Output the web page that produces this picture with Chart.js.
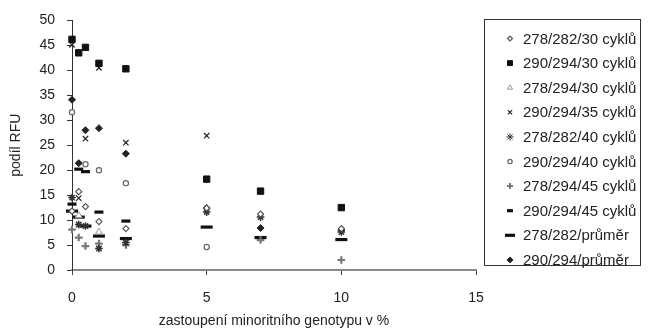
<!DOCTYPE html>
<html>
<head>
<meta charset="utf-8">
<script src="https://cdn.jsdelivr.net/npm/chart.js@4/dist/chart.umd.min.js"></script>
<style>
html,body{margin:0;padding:0;background:#fff;}
#wrap{width:648px;height:330px;position:relative;}
</style>
</head>
<body>
<div id="wrap"><canvas id="c" width="648" height="330"></canvas></div>
<script>
// x categories: % of minority genotype
const xValues = [0, 0.25, 0.5, 1, 2, 5, 7, 10];
const xTicks = [0, 5, 10, 15];
const yTicks = [0, 5, 10, 15, 20, 25, 30, 35, 40, 45, 50];

const labels = [
  '278/282/30 cyklů', '290/294/30 cyklů', '278/294/30 cyklů', '290/294/35 cyklů',
  '278/282/40 cyklů', '290/294/40 cyklů', '278/294/45 cyklů', '290/294/45 cyklů',
  '278/282/průměr', '290/294/průměr'
];

const s278_282_30  = [11.8, 15.7, 12.7, 9.7, 8.3, 12.4, 11.2, 8.3];
const s290_294_30  = [46.2, 43.5, 44.6, 41.4, 40.3, 18.2, 15.8, 12.5];
const s278_294_30  = [null, 10.9, null, 7.6, null, null, null, null];
const s290_294_35  = [45.1, 14.4, 26.3, 40.5, 25.5, 26.9, null, null];
const s278_282_40  = [14.5, 9.1, 8.8, 4.3, 5.5, 11.6, 10.6, 7.6];
const s290_294_40  = [31.6, null, 21.2, 20.0, 17.4, 4.6, null, null];
const s278_294_45  = [8.1, 6.5, 4.8, 5.3, 5.0, null, 6.0, 2.0];
const s290_294_45  = [13.2, 20.2, 19.7, 11.6, 9.8, null, null, null];
const s278_282_avg = [11.8, 10.6, 8.8, 6.8, 6.3, 8.6, 6.5, 6.1];
const s290_294_avg = [34.1, 21.4, 28.0, 28.4, 23.3, 12.4, 8.4, 8.0];

const seriesValues = [s278_282_30, s290_294_30, s278_294_30, s290_294_35, s278_282_40,
  s290_294_40, s278_294_45, s290_294_45, s278_282_avg, s290_294_avg];

const NONE = 'rgba(0,0,0,0)';
const styles = [
  {pointStyle:'rectRot',  radius:3,   bg:'#ffffff', bc:'#555555', bw:1.2, lr:2.5, lw:1.2},
  {pointStyle:'rect',     radius:4.5, bg:'#111111', bc:'#111111', bw:1,   lr:3.5, lw:1},
  {pointStyle:'triangle', radius:4,   bg:'#ffffff', bc:'#999999', bw:1,   lr:3,   lw:1},
  {pointStyle:'crossRot', radius:3.8, bg:NONE,      bc:'#222222', bw:1.2, lr:3,   lw:1.2},
  {pointStyle:'star',     radius:3.8, bg:NONE,      bc:'#333333', bw:1.5, lr:3.6, lw:1},
  {pointStyle:'circle',   radius:2.6, bg:'#ffffff', bc:'#666666', bw:1.2, lr:2.2, lw:1.2},
  {pointStyle:'cross',    radius:3.8, bg:NONE,      bc:'#777777', bw:2.2, lr:3,   lw:2},
  {pointStyle:'line',     radius:4.5, bg:NONE,      bc:'#111111', bw:3.2, lr:3,   lw:3.2},
  {pointStyle:'line',     radius:6,   bg:NONE,      bc:'#111111', bw:3.2, lr:5,   lw:3.2},
  {pointStyle:'rectRot',  radius:3.5, bg:'#222222', bc:'#222222', bw:1,   lr:3,   lw:1}
];

const datasets = labels.map((lab, i) => ({
  label: lab,
  data: xValues.map((x, j) => seriesValues[i][j] === null ? null : {x: x, y: seriesValues[i][j]}).filter(p => p !== null),
  pointStyle: styles[i].pointStyle,
  pointRadius: styles[i].radius,
  pointHoverRadius: styles[i].radius,
  backgroundColor: styles[i].bg,
  borderColor: styles[i].bc,
  borderWidth: styles[i].bw,
  pointBorderWidth: styles[i].bw,
  legendRadius: styles[i].lr,
  legendWidth: styles[i].lw,
  showLine: false,
  clip: false
}));

const FONT = '"Liberation Sans", Arial, sans-serif';

const legendBox = {
  id: 'legendBox',
  afterDraw(chart) {
    const ctx = chart.ctx;
    ctx.save();
    ctx.strokeStyle = '#333';
    ctx.lineWidth = 1;
    ctx.strokeRect(484.5, 19.5, 156, 246);
    ctx.font = '15px ' + FONT;
    ctx.textBaseline = 'middle';
    ctx.textAlign = 'left';
    chart.data.datasets.forEach((ds, i) => {
      const y = 38.5 + i * 24.6;
      ctx.save();
      ctx.fillStyle = ds.backgroundColor;
      ctx.strokeStyle = ds.borderColor;
      ctx.lineWidth = ds.legendWidth;
      Chart.helpers.drawPoint(ctx, {pointStyle: ds.pointStyle, radius: ds.legendRadius, borderWidth: ds.legendWidth, rotation: 0}, 510, y);
      ctx.restore();
      ctx.fillStyle = '#222';
      ctx.fillText(ds.label, 523, y + 1);
    });
    ctx.restore();
  }
};

new Chart(document.getElementById('c'), {
  type: 'scatter',
  data: { datasets: datasets },
  options: {
    responsive: false,
    animation: false,
    devicePixelRatio: 1,
    layout: { padding: { top: 18, right: 172, left: 0, bottom: 0 } },
    plugins: { legend: { display: false }, tooltip: { enabled: false } },
    scales: {
      x: {
        type: 'linear', min: 0, max: 15,
        afterFit(s) { s.height = 60; },
        afterBuildTicks(s) { s.ticks = xTicks.map(v => ({value: v})); },
        border: { display: true, color: '#8a8a8a', width: 2 },
        grid: { display: true, drawOnChartArea: false, drawTicks: true, tickLength: 5, color: '#444', lineWidth: 1 },
        ticks: { color: '#222', padding: 15, font: { size: 14, family: FONT } },
        title: { display: true, text: 'zastoupení minoritního genotypu v %', color: '#222',
                 font: { size: 14, family: FONT }, padding: { top: 0, bottom: 0 } }
      },
      y: {
        type: 'linear', min: 0, max: 50,
        afterFit(s) { s.width = 72; },
        afterBuildTicks(s) { s.ticks = yTicks.map(v => ({value: v})); },
        border: { display: true, color: '#333', width: 1 },
        grid: { display: true, drawOnChartArea: false, drawTicks: true, tickLength: 5, color: '#333', lineWidth: 1 },
        ticks: { color: '#222', padding: 12, font: { size: 14, family: FONT } },
        title: { display: true, text: 'podíl RFU', color: '#222',
                 font: { size: 14, family: FONT }, padding: { top: 8, bottom: 0 } }
      }
    }
  },
  plugins: [legendBox]
});
</script>
</body>
</html>
